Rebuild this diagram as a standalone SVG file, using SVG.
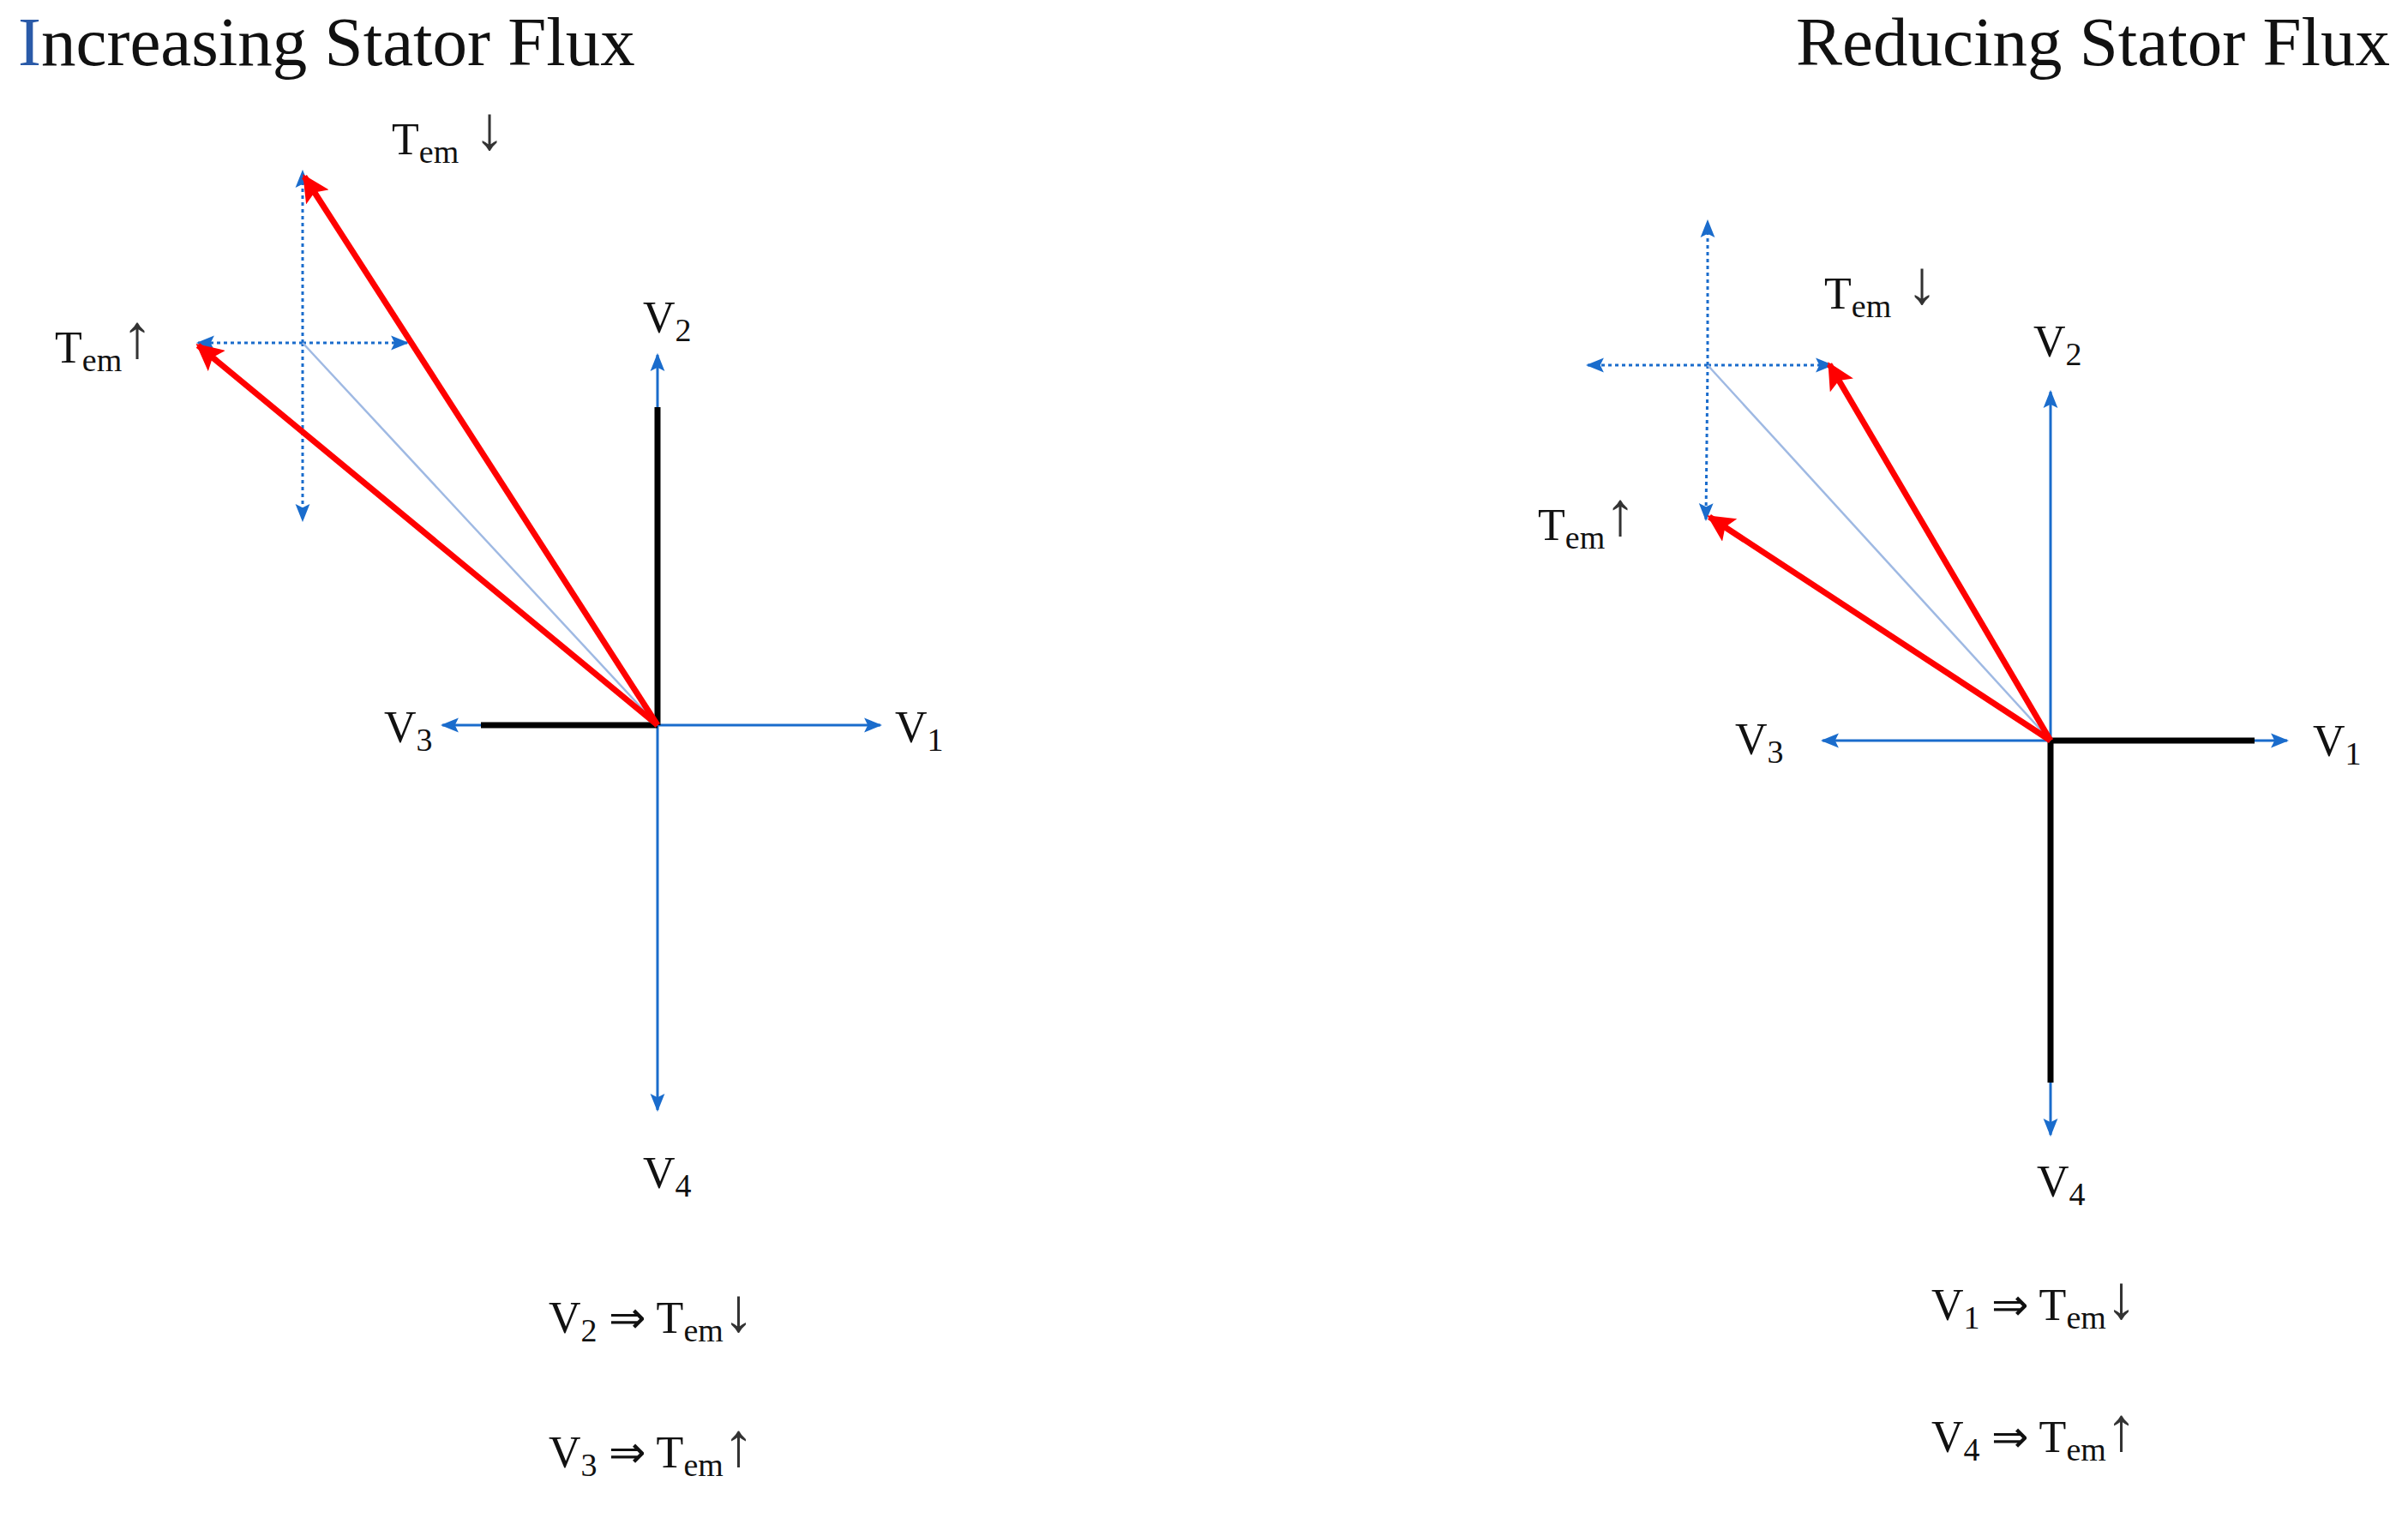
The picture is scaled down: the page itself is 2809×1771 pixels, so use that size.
<svg xmlns="http://www.w3.org/2000/svg" width="2809" height="1771" viewBox="0 0 2809 1771">
<style>
text{font-family:"Liberation Serif",serif;fill:#111}
.t{font-size:81px}
.l{font-size:52px}
.s{font-size:38px}
.a{font-size:72px;fill:#333}
.ax{stroke:#1a6ccc;stroke-width:3;fill:none;marker-end:url(#ab)}
.dot{stroke:#1a6ccc;stroke-width:3;stroke-dasharray:4 4;fill:none;marker-end:url(#ab)}
.thin{stroke:#9fb9e3;stroke-width:2.5;fill:none}
.blk{stroke:#000;stroke-width:7;fill:none}
.red{stroke:#f00;stroke-width:7;fill:none;marker-end:url(#ar)}
</style>
<defs>
<marker id="ab" viewBox="0 0 10 10" refX="9" refY="5" markerWidth="7" markerHeight="7" orient="auto" markerUnits="strokeWidth"><path d="M0,1 L10,5 L0,9 L2,5 Z" fill="#1a6ccc"/></marker>
<marker id="ar" viewBox="0 0 10 10" refX="9" refY="5" markerWidth="4.5" markerHeight="4.5" orient="auto" markerUnits="strokeWidth"><path d="M0,0 L10,5 L0,10 L2,5 Z" fill="#f00"/></marker>
</defs>
<g id="titles">
<text class="t" x="21" y="76"><tspan fill="#2a5aa8">I</tspan>ncreasing Stator Flux</text>
<text class="t" x="2788" y="76" text-anchor="end">Reducing Stator Flux</text>
</g>
<g id="connectors">
<line class="ax" x1="767" y1="846" x2="1027" y2="846"/>
<line class="ax" x1="767" y1="846" x2="516" y2="846"/>
<line class="ax" x1="767" y1="846" x2="767" y2="414"/>
<line class="ax" x1="767" y1="846" x2="767" y2="1295"/>
<line class="blk" x1="561" y1="846" x2="767" y2="846"/>
<line class="blk" x1="767" y1="846" x2="767" y2="475"/>
<line class="dot" x1="353" y1="400" x2="353" y2="200"/>
<line class="dot" x1="353" y1="400" x2="353" y2="607"/>
<line class="dot" x1="353" y1="400" x2="231" y2="400"/>
<line class="dot" x1="353" y1="400" x2="475" y2="400"/>
<line class="thin" x1="353" y1="400" x2="767" y2="846"/>
<line class="red" x1="767" y1="846" x2="355" y2="206"/>
<line class="red" x1="767" y1="846" x2="231" y2="403"/>
<line class="ax" x1="2392" y1="864" x2="2668" y2="864"/>
<line class="ax" x1="2392" y1="864" x2="2126" y2="864"/>
<line class="ax" x1="2392" y1="864" x2="2392" y2="457"/>
<line class="ax" x1="2392" y1="864" x2="2392" y2="1324"/>
<line class="blk" x1="2392" y1="864" x2="2630" y2="864"/>
<line class="blk" x1="2392" y1="864" x2="2392" y2="1263"/>
<line class="dot" x1="1992" y1="426" x2="1992" y2="258"/>
<line class="dot" x1="1992" y1="426" x2="1990" y2="606"/>
<line class="dot" x1="1992" y1="426" x2="1852" y2="426"/>
<line class="dot" x1="1992" y1="426" x2="2137" y2="426"/>
<line class="thin" x1="1992" y1="426" x2="2392" y2="864"/>
<line class="red" x1="2392" y1="864" x2="2134" y2="425"/>
<line class="red" x1="2392" y1="864" x2="1994" y2="603"/>
</g>
<g id="left-labels">
<text class="l" x="750" y="388">V<tspan class="s" dy="10">2</tspan></text>
<text class="l" x="1044" y="866">V<tspan class="s" dy="10">1</tspan></text>
<text class="l" x="448" y="866">V<tspan class="s" dy="10">3</tspan></text>
<text class="l" x="750" y="1386">V<tspan class="s" dy="10">4</tspan></text>
<text class="l" x="457" y="180">T<tspan class="s" dy="10">em</tspan><tspan class="a" dy="-16"> ↓</tspan></text>
<text class="l" x="64" y="423">T<tspan class="s" dy="10">em</tspan><tspan class="a" dy="-16">↑</tspan></text>
<text class="l" x="640" y="1555">V<tspan class="s" dy="10">2</tspan><tspan dy="-10">  ⇒ T</tspan><tspan class="s" dy="10">em</tspan><tspan class="a" dy="-12">↓</tspan></text>
<text class="l" x="640" y="1712">V<tspan class="s" dy="10">3</tspan><tspan dy="-10">  ⇒ T</tspan><tspan class="s" dy="10">em</tspan><tspan class="a" dy="-12">↑</tspan></text>
</g>
<g id="right-labels">
<text class="l" x="2372" y="416">V<tspan class="s" dy="10">2</tspan></text>
<text class="l" x="2698" y="882">V<tspan class="s" dy="10">1</tspan></text>
<text class="l" x="2024" y="880">V<tspan class="s" dy="10">3</tspan></text>
<text class="l" x="2376" y="1396">V<tspan class="s" dy="10">4</tspan></text>
<text class="l" x="2128" y="360">T<tspan class="s" dy="10">em</tspan><tspan class="a" dy="-16"> ↓</tspan></text>
<text class="l" x="1794" y="630">T<tspan class="s" dy="10">em</tspan><tspan class="a" dy="-16">↑</tspan></text>
<text class="l" x="2253" y="1540">V<tspan class="s" dy="10">1</tspan><tspan dy="-10">  ⇒ T</tspan><tspan class="s" dy="10">em</tspan><tspan class="a" dy="-12">↓</tspan></text>
<text class="l" x="2253" y="1694">V<tspan class="s" dy="10">4</tspan><tspan dy="-10">  ⇒ T</tspan><tspan class="s" dy="10">em</tspan><tspan class="a" dy="-12">↑</tspan></text>
</g>
</svg>
